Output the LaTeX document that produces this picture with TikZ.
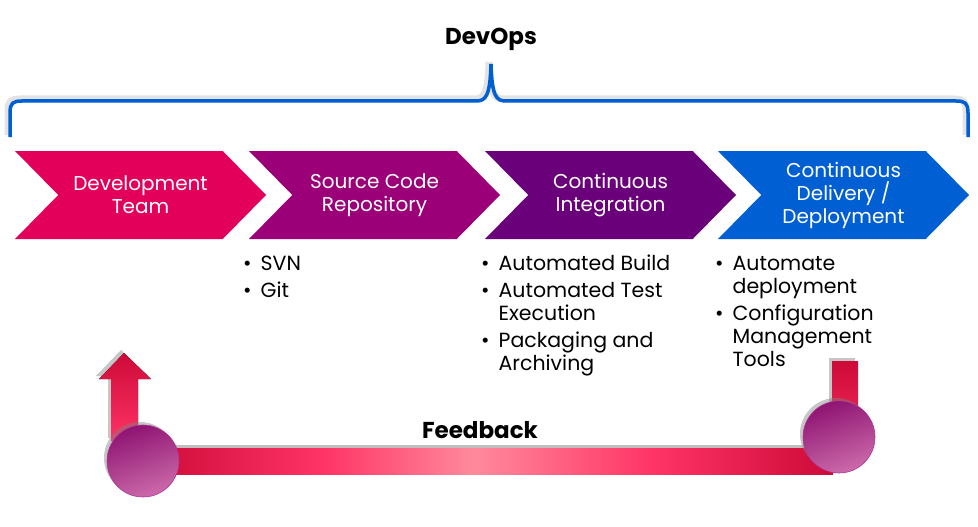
\documentclass[tikz,border=0pt]{standalone}
\usepackage{xcolor}
\usepackage{fontspec}
\setmainfont{Poppins}
\usepackage{tikz}
\usetikzlibrary{shapes.symbols,shadows,calc}

\definecolor{devpink}{HTML}{E3005A}
\definecolor{srcpurple}{HTML}{9B0078}
\definecolor{cipurple}{HTML}{6A007A}
\definecolor{cdblue}{HTML}{005FD3}
\definecolor{fbdark}{HTML}{CC0A38}
\definecolor{fbmid}{HTML}{FF3366}
\definecolor{fblight}{HTML}{FF8A9C}
\definecolor{balldark}{HTML}{8E1472}
\definecolor{balllight}{HTML}{CC6AAA}

\pgfdeclarehorizontalshading{fbshade}{100bp}{color(0bp)=(fbdark); color(25bp)=(fbdark); color(38bp)=(fbmid); color(49bp)=(fblight); color(62bp)=(fbmid); color(75bp)=(fbdark); color(100bp)=(fbdark)}

\begin{document}
\begin{tikzpicture}[x=1pt, y=-1pt,
    chev/.style={signal, signal to=east, signal from=west, signal pointer angle=91, draw=none, minimum width=251, minimum height=88, inner sep=0, text=white, align=center, font=\fontsize{20}{23}\selectfont},
    bullets/.style={anchor=base west, inner sep=0, font=\fontsize{20.5}{23}\selectfont},
    ball/.style={circle, minimum size=72, inner sep=0, draw=srcpurple!80, line width=0.6pt, top color=balldark, bottom color=balllight, shading angle=20, drop shadow={shadow xshift=-3pt, shadow yshift=3pt, opacity=0.45}},
    title/.style={font=\bfseries\fontsize{23}{26}\selectfont}]
    \useasboundingbox (0,0) rectangle (978,527);

    % Top brace
    \node[title] (devops) at (491,39) {DevOps};
    \draw[gray, opacity=0.22, line width=7pt, xshift=-2pt, yshift=2pt] (10,137) -- (10,113) .. controls (10,103) and (13,101) .. (22,101) -- (476,101) .. controls (486,101) and (490,96) .. (491,64) .. controls (492,96) and (496,101) .. (506,101) -- (956,101) .. controls (965,101) and (968,103) .. (968,113) -- (968,137);
    \draw[cdblue, line width=3.5pt] (10,137) -- (10,113) .. controls (10,103) and (13,101) .. (22,101) -- (476,101) .. controls (486,101) and (490,96) .. (491,64) .. controls (492,96) and (496,101) .. (506,101) -- (956,101) .. controls (965,101) and (968,103) .. (968,113) -- (968,137);

    % Chevrons
    \node[chev, fill=devpink] (dev) at (140.5,195) {Development\\Team};
    \node[chev, fill=srcpurple] (src) at (374.5,195) {Source Code\\Repository};
    \node[chev, fill=cipurple] (ci) at (610.5,195) {Continuous\\Integration};
    \node[chev, fill=cdblue] (cd) at (843.5,195) {Continuous\\Delivery /\\Deployment};

    % Tools
    \node[bullets] (srctools) at (243,270) {\begin{tabular}[t]{@{}l@{\hspace{9pt}}l@{}}
        \textbullet & SVN\\[4pt]
        \textbullet & Git
    \end{tabular}};
    \node[bullets] (citools) at (481,270) {\begin{tabular}[t]{@{}l@{\hspace{9pt}}l@{}}
        \textbullet & Automated Build\\[4pt]
        \textbullet & Automated Test\\
                    & Execution\\[4pt]
        \textbullet & Packaging and\\
                    & Archiving
    \end{tabular}};
    \node[bullets] (cdtools) at (715,270) {\begin{tabular}[t]{@{}l@{\hspace{9pt}}l@{}}
        \textbullet & Automate\\
                    & deployment\\[4pt]
        \textbullet & Configuration\\
                    & Management\\
                    & Tools
    \end{tabular}};

    % Feedback loop
    \coordinate (fbLpos) at (143,461);
    \coordinate (fbRpos) at (839,437);
    \fill[gray, opacity=0.5] ($(fbLpos)+(0,-16)$) rectangle ($(fbRpos |- fbLpos)+(-6,10)$);
    \shade[shading=fbshade] ($(fbLpos)+(0,-13)$) rectangle ($(fbRpos |- fbLpos)+(-6,13)$);
    \fill[top color=fbdark, bottom color=fbmid, drop shadow={shadow xshift=-3pt, shadow yshift=3pt, opacity=0.45}]
        ($(fbLpos)+(-32,-20)$) -- ($(fbLpos)+(-32,-82)$) -- ($(fbLpos)+(-44,-82)$) -- ($(fbLpos)+(-19,-108)$)
        -- ($(fbLpos)+(8,-82)$) -- ($(fbLpos)+(-5,-82)$) -- ($(fbLpos)+(-5,-20)$) -- cycle;
    \fill[top color=fbdark, bottom color=fbmid!80!fbdark, drop shadow={shadow xshift=-3pt, shadow yshift=3pt, opacity=0.45}]
        ($(fbRpos)+(-7,-76)$) rectangle ($(fbRpos)+(19,0)$);
    \node[ball] (fbL) at (fbLpos) {};
    \node[ball] (fbR) at (fbRpos) {};
    \node[title] (feedback) at (480,430) {Feedback};

\end{tikzpicture}
\end{document}
